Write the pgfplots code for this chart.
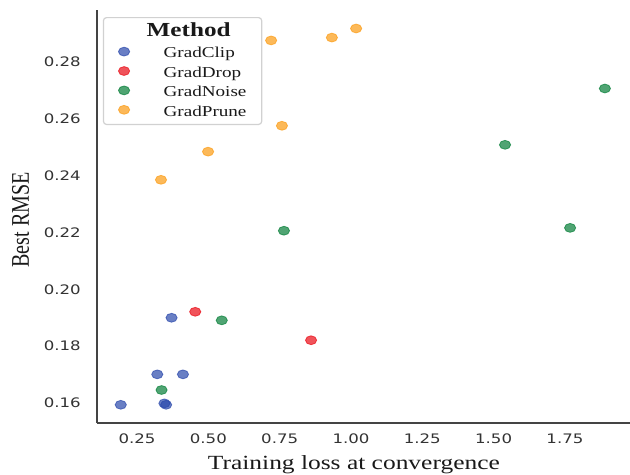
\documentclass[border=0pt]{standalone}
\usepackage{fontspec}
\usepackage{pgfplots}
\pgfplotsset{compat=1.18}
% the reference is squeezed vertically, so the horizontal text is stretched
\newfontfamily\hserif{Liberation Serif}[FakeStretch=1.266]
\newfontfamily\vserif{Liberation Serif}[FakeStretch=0.79]
\newfontfamily\hsans{DejaVu Sans}[FakeStretch=1.266]
\definecolor{cClip}{HTML}{2A48AB}
\definecolor{cDrop}{HTML}{E90A14}
\definecolor{cNoise}{HTML}{057E37}
\definecolor{cPrune}{HTML}{FB9B13}
\definecolor{spine}{HTML}{444444}
\pgfplotsset{
  dot/.style={only marks, mark=*, mark size=5.6bp,
    mark options={yscale=0.79, fill=#1, draw=#1, fill opacity=0.7,
      draw opacity=0.7, line width=0.8bp}},
}
\begin{document}
\begin{tikzpicture}
\begin{axis}[
  scale only axis, width=533bp, height=413bp,
  xmin=0.1097, xmax=1.978, ymin=0.153, ymax=0.2982,
  axis lines=left,
  axis line style={-, draw=spine, line width=2bp},
  major tick length=0pt,
  xtick={0.25,0.5,0.75,1,1.25,1.5,1.75},
  ytick={0.16,0.18,0.2,0.22,0.24,0.26,0.28},
  /pgf/number format/.cd, fixed, fixed zerofill, precision=2,
  assume math mode=true, /pgfplots/.cd,
  xticklabel style={anchor=center, yshift=-16bp, text=black!80,
    font=\hsans\fontsize{13.1bp}{15bp}\selectfont},
  yticklabel style={anchor=east, inner sep=0pt, xshift=-16bp, text=black!80,
    font=\hsans\fontsize{13.1bp}{15bp}\selectfont},
  xlabel={Training loss at convergence},
  ylabel={Best RMSE},
  every axis x label/.style={at={(rel axis cs:0.482,0)}, anchor=center,
    yshift=-42bp, text=black!90,
    font=\hserif\fontsize{20.1bp}{24bp}\selectfont},
  every axis y label/.style={at={(rel axis cs:-0.1432,0.4915)},
    anchor=center, rotate=90, text=black!90,
    font=\vserif\fontsize{25.4bp}{30bp}\selectfont},
  legend cell align=left,
  legend image code/.code={
    \path (-20bp,0bp) (39bp,0bp);
    \draw[#1] plot coordinates {(0bp,0bp)};},
  legend style={at={(rel axis cs:0.011,0.983)}, anchor=north west,
    draw=black!18, line width=1.2bp, rounded corners=3bp, fill=white,
    inner xsep=0pt, inner ysep=4.9bp, row sep=0pt,
    nodes={inner sep=0pt, text height=16bp, text depth=3.4bp,
      text width=98bp, text=black!90,
      font=\hserif\fontsize{15.1bp}{18bp}\selectfont}},
]
\addlegendimage{empty legend}
\addlegendentry{\hspace*{-17bp}\raisebox{1.9bp}{\fontsize{19.9bp}{24bp}\selectfont\bfseries Method}}

\addplot[dot=cClip] coordinates {
  (0.193,0.1594) (0.346,0.1599) (0.352,0.1594)
  (0.321,0.1701) (0.411,0.1701) (0.371,0.1900)
};
\addlegendentry{GradClip}
\addplot[dot=cDrop] coordinates {
  (0.454,0.1921) (0.860,0.1821)
};
\addlegendentry{GradDrop}
\addplot[dot=cNoise] coordinates {
  (0.336,0.1646) (0.547,0.1891) (0.765,0.2206)
  (1.540,0.2508) (1.768,0.2216) (1.890,0.2706)
};
\addlegendentry{GradNoise}
\addplot[dot=cPrune] coordinates {
  (0.334,0.2385) (0.499,0.2484) (0.758,0.2575)
  (0.720,0.2875) (0.933,0.2885) (1.018,0.2917)
};
\addlegendentry{GradPrune}
\end{axis}
\pgfresetboundingbox
\path[use as bounding box] (current axis.south west) ++(-97bp,-52bp)
  rectangle ++(630bp,475bp);
\end{tikzpicture}
\end{document}
